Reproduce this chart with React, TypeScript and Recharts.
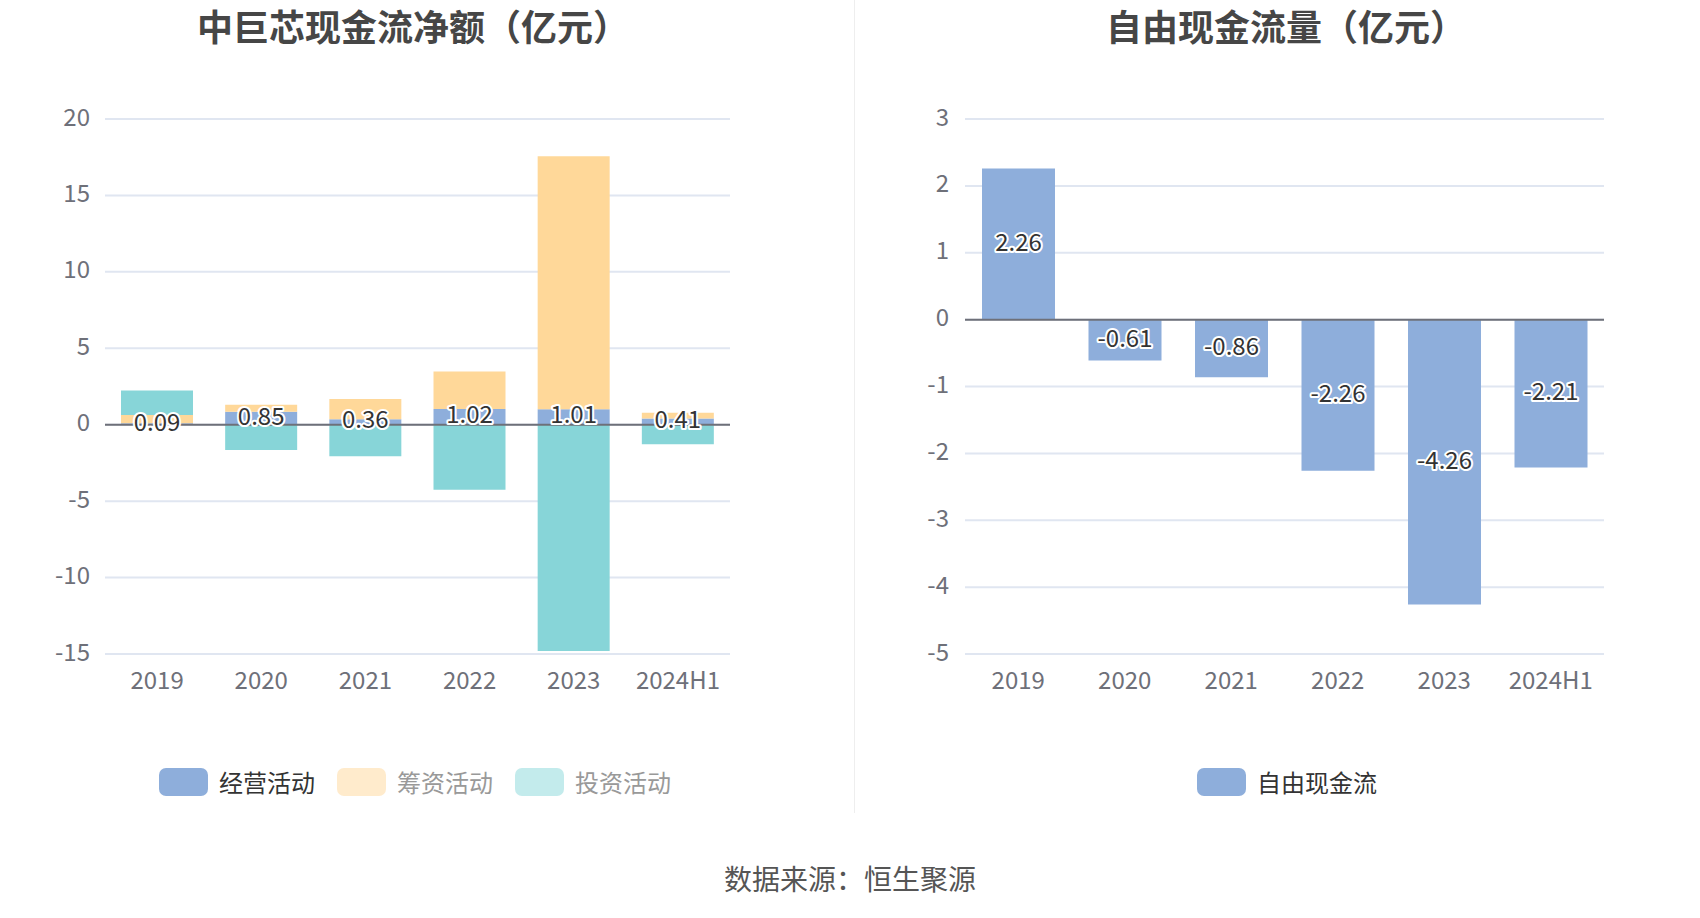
import React from "react";
import {
  BarChart,
  Bar,
  XAxis,
  YAxis,
  CartesianGrid,
  ReferenceLine,
  LabelList,
} from "recharts";

const categories = ["2019", "2020", "2021", "2022", "2023", "2024H1"];
const operating = [0.09, 0.85, 0.36, 1.02, 1.01, 0.41];
const financing = [0.54, 0.46, 1.33, 2.46, 16.55, 0.37];
const investing = [1.61, -1.66, -2.07, -4.26, -14.81, -1.28];
const freeCash = [2.26, -0.61, -0.86, -2.26, -4.26, -2.21];

const leftTicks = [-15, -10, -5, 0, 5, 10, 15, 20];
const rightTicks = [-5, -4, -3, -2, -1, 0, 1, 2, 3];

const FONT = '"Noto Sans CJK SC", "Noto Sans", sans-serif';
const BLUE = "#8EAEDB";
const ORANGE = "#FFD899";
const TEAL = "#87D5D8";

const flowData = categories.map((c, i) => ({
  name: c,
  op: operating[i],
  fin: financing[i],
  inv: investing[i],
}));
const freeData = categories.map((c, i) => ({ name: c, free: freeCash[i] }));

const tick = { fontFamily: FONT, fontSize: 24, fill: "#6E7079", dy: -2 };

// value label with white outline, centred in the bar
const OutlinedLabel = (props: any) => {
  const { x, y, width, height, value } = props;
  if (value == null) return null;
  return (
    <text
      x={x + width / 2}
      y={y + height / 2 - 4}
      textAnchor="middle"
      dominantBaseline="central"
      fontFamily={FONT}
      fontSize={24}
      fill="#333"
      stroke="#fff"
      strokeWidth={4}
      strokeLinejoin="round"
      style={{ paintOrder: "stroke" }}
    >
      {Number(value).toFixed(2)}
    </text>
  );
};

const LegendItem = ({ color, text, textColor }: any) => (
  <div style={{ display: "flex", alignItems: "center", marginRight: 22 }}>
    <div style={{ width: 49, height: 28, borderRadius: 7, background: color, marginRight: 11 }} />
    <span style={{ fontFamily: FONT, fontSize: 24, color: textColor, lineHeight: "28px" }}>{text}</span>
  </div>
);

const titleStyle: React.CSSProperties = {
  position: "absolute",
  top: 6,
  height: 38,
  lineHeight: "38px",
  transform: "translateX(-50%)",
  fontFamily: FONT,
  fontSize: 36,
  fontWeight: 700,
  color: "#464646",
  whiteSpace: "nowrap",
};

export default function App() {
  return (
    <div style={{ position: "absolute", left: 0, top: 0, width: 1700, height: 918, background: "#fff", overflow: "hidden" }}>
      <div style={{ ...titleStyle, left: 413 }}>中巨芯现金流净额（亿元）</div>
      <div style={{ ...titleStyle, left: 1286 }}>自由现金流量（亿元）</div>
      <div style={{ position: "absolute", left: 854, top: 0, width: 1, height: 813, background: "#EEEEEE" }} />

      <div style={{ position: "absolute", left: 0, top: 0 }}>
        <BarChart
          width={860}
          height={918}
          data={flowData}
          stackOffset="sign"
          margin={{ top: 119, right: 130, left: 0, bottom: 224 }}
        >
          <CartesianGrid vertical={false} stroke="#E0E6F1" strokeWidth={2} />
          <XAxis dataKey="name" axisLine={false} tickLine={false} tick={tick} tickMargin={14} height={40} interval={0} />
          <YAxis
            type="number"
            domain={[-15, 20]}
            ticks={leftTicks}
            axisLine={false}
            tickLine={false}
            tickSize={0}
            tickMargin={15}
            width={105}
            tick={tick}
          />
          <ReferenceLine y={0} stroke="#6E7079" strokeWidth={2} />
          <Bar dataKey="op" stackId="a" fill={BLUE} barSize={72} isAnimationActive={false}>
            <LabelList dataKey="op" content={OutlinedLabel} />
          </Bar>
          <Bar dataKey="fin" stackId="a" fill={ORANGE} barSize={72} isAnimationActive={false} />
          <Bar dataKey="inv" stackId="a" fill={TEAL} barSize={72} isAnimationActive={false} />
        </BarChart>
      </div>

      <div style={{ position: "absolute", left: 860, top: 0 }}>
        <BarChart
          width={840}
          height={918}
          data={freeData}
          margin={{ top: 119, right: 96, left: 0, bottom: 224 }}
        >
          <CartesianGrid vertical={false} stroke="#E0E6F1" strokeWidth={2} />
          <XAxis dataKey="name" axisLine={false} tickLine={false} tick={tick} tickMargin={14} height={40} interval={0} />
          <YAxis
            type="number"
            domain={[-5, 3]}
            ticks={rightTicks}
            axisLine={false}
            tickLine={false}
            tickSize={0}
            tickMargin={16}
            width={105}
            tick={tick}
          />
          <ReferenceLine y={0} stroke="#6E7079" strokeWidth={2} />
          <Bar dataKey="free" fill={BLUE} barSize={73} isAnimationActive={false}>
            <LabelList dataKey="free" content={OutlinedLabel} />
          </Bar>
        </BarChart>
      </div>

      <div style={{ position: "absolute", left: 159, top: 768, display: "flex" }}>
        <LegendItem color={BLUE} text="经营活动" textColor="#333" />
        <LegendItem color="#FFEBCC" text="筹资活动" textColor="#999" />
        <LegendItem color="#C3EBEC" text="投资活动" textColor="#999" />
      </div>
      <div style={{ position: "absolute", left: 1197, top: 768, display: "flex" }}>
        <LegendItem color={BLUE} text="自由现金流" textColor="#333" />
      </div>

      <div style={{ position: "absolute", left: 850, top: 878, transform: "translate(-50%, -50%)", fontFamily: FONT, fontSize: 28, color: "#555", whiteSpace: "nowrap" }}>
        数据来源：恒生聚源
      </div>
    </div>
  );
}
